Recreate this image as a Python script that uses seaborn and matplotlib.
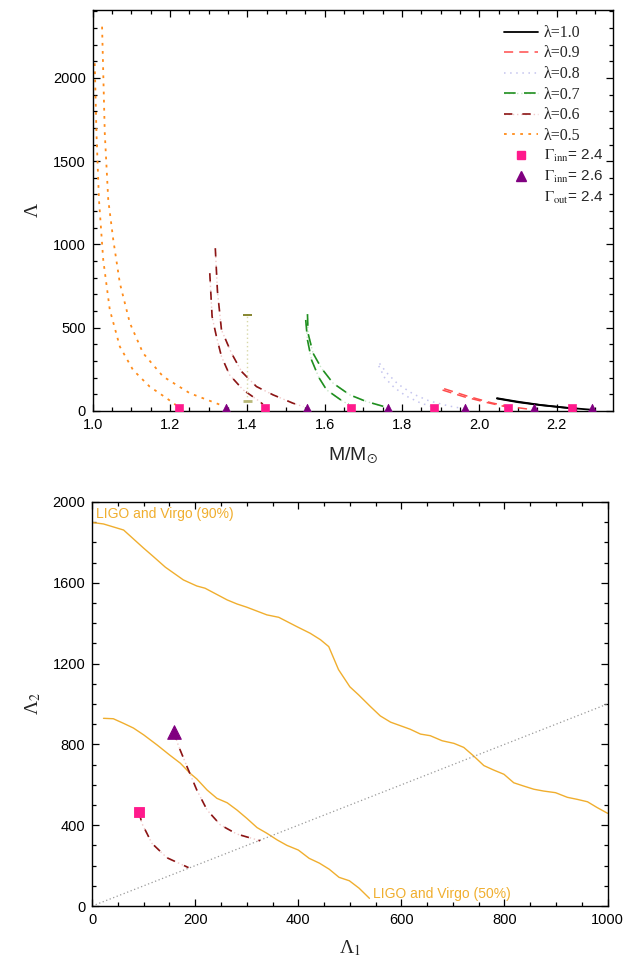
import numpy as np
import pandas as pd
import matplotlib
matplotlib.use("Agg")
import matplotlib.pyplot as plt
from matplotlib.lines import Line2D
from matplotlib.legend_handler import HandlerTuple
from matplotlib.ticker import MultipleLocator
import seaborn as sns

# ---------------- data: top panel (M/Msun vs Lambda) ----------------
# lambda = 0.5
m05_g26 = [1.024, 1.031, 1.040, 1.053, 1.070, 1.096, 1.130, 1.182, 1.251, 1.337]
L05_g26 = [2308, 1668, 1267, 1027, 767, 527, 347, 206, 106, 30]
m05_g24 = [1.005, 1.0095, 1.016, 1.027, 1.044, 1.070, 1.104, 1.147, 1.191, 1.215]
L05_g24 = [2088, 1668, 1267, 907, 607, 386, 246, 146, 76, 35]
# lambda = 0.6
m06_g26 = [1.317, 1.3226, 1.333, 1.359, 1.385, 1.4235, 1.4666, 1.518, 1.545]
L06_g26 = [977, 717, 486, 346, 236, 146, 96, 46, 25]
m06_g24 = [1.3027, 1.3087, 1.320, 1.333, 1.354, 1.389, 1.432, 1.440]
L06_g24 = [827, 566, 446, 326, 216, 126, 56, 40]
# lambda = 0.7
m07_g26 = [1.5555, 1.557, 1.570, 1.5917, 1.6218, 1.665, 1.708, 1.755]
L07_g26 = [581, 466, 346, 256, 166, 96, 56, 25]
m07_g24 = [1.551, 1.5555, 1.566, 1.585, 1.605, 1.6476, 1.662]
L07_g24 = [546, 426, 306, 200, 126, 56, 40]
# lambda = 0.8
m08_g26 = [1.742, 1.760, 1.790, 1.830, 1.870, 1.920, 1.955]
L08_g26 = [285, 230, 160, 100, 60, 30, 15]
m08_g24 = [1.740, 1.755, 1.780, 1.810, 1.850, 1.875]
L08_g24 = [270, 200, 140, 90, 45, 28]
# lambda = 0.9
m09_g26 = [1.909, 1.970, 2.032, 2.080, 2.135]
L09_g26 = [133, 88, 48, 25, 8]
m09_g24 = [1.905, 1.960, 2.020, 2.070]
L09_g24 = [125, 85, 50, 24]
# lambda = 1.0
m10_g26 = [2.046, 2.100, 2.157, 2.220, 2.294]
L10_g26 = [76, 55, 36, 20, 6]
m10_g24 = [2.046, 2.100, 2.160, 2.235]
L10_g24 = [74, 52, 34, 16]

lambdas = ["1.0", "0.9", "0.8", "0.7", "0.6", "0.5"]

# end-point markers
sq_mass = [1.222, 1.445, 1.668, 1.882, 2.075, 2.240]
sq_Lam = [20, 20, 20, 20, 20, 20]
tri_mass = [1.345, 1.555, 1.765, 1.962, 2.142, 2.292]
tri_Lam = [12, 12, 12, 12, 12, 12]

# GW170817 constraint at 1.4 Msun
gw_mass = [1.4]
gw_low = [62]
gw_high = [577]

# ---------------- data: bottom panel (Lambda1 vs Lambda2) ----------------
ligo90_L1 = [1, 22, 61, 100, 119, 142, 177, 203, 219, 262, 281, 300, 339, 362, 397,
             423, 443, 459, 478, 500, 517, 540, 559, 579, 617, 637, 656, 679, 702,
             721, 740, 760, 779, 799, 818, 837, 857, 876, 899, 922, 941, 961, 980, 1000]
ligo90_L2 = [1898, 1891, 1861, 1771, 1729, 1677, 1614, 1584, 1573, 1515, 1495, 1479,
             1441, 1429, 1383, 1350, 1318, 1284, 1170, 1085, 1045, 987, 941, 910, 875,
             851, 843, 818, 805, 785, 743, 695, 673, 652, 610, 594, 578, 569, 561, 538,
             528, 516, 487, 459]
ligo50_L1 = [22, 41, 61, 80, 100, 126, 151, 171, 190, 203, 223, 242, 262, 281, 300,
             320, 339, 359, 378, 400, 421, 441, 460, 479, 499, 518, 538]
ligo50_L2 = [929, 927, 904, 881, 847, 797, 746, 707, 657, 629, 574, 533, 511, 475, 434,
             388, 360, 327, 300, 277, 236, 212, 182, 142, 125, 88, 38]
diag_L = [0, 1000]

bin_g26_L1 = [158, 168, 184, 203, 223, 249, 281, 326]
bin_g26_L2 = [863, 789, 690, 574, 475, 401, 356, 323]
bin_g24_L1 = [91, 96.5, 116, 145, 187]
bin_g24_L2 = [464, 409, 310, 239, 190]

# ---------------- styling ----------------
sns.set_theme(style="ticks")
plt.rcParams["font.family"] = ["Liberation Sans", "DejaVu Sans"]
plt.rcParams["mathtext.fontset"] = "stix"
plt.rcParams["axes.linewidth"] = 1.0

styles = {
    "1.0": [dict(color="black", ls="-", lw=1.3)],
    "0.9": [dict(color="#ff4d4d", ls=(0, (6, 4)), lw=1.1)],
    "0.8": [dict(color="#c4c4ee", ls=(0, (1, 3)), lw=1.1)],
    "0.7": [dict(color="#c8e6c8", ls=(0, (1, 2)), lw=1.0),
            dict(color="#1f8f1f", ls=(0, (7, 5)), lw=1.2)],
    "0.6": [dict(color="#f0c8c8", ls=(0, (1, 2)), lw=1.0),
            dict(color="#8b1414", ls=(0, (5, 6)), lw=1.2)],
    "0.5": [dict(color="#ff8c1a", ls=(0, (1.5, 3)), lw=1.3)],
}
curves = {
    "1.0": [(m10_g24, L10_g24), (m10_g26, L10_g26)],
    "0.9": [(m09_g24, L09_g24), (m09_g26, L09_g26)],
    "0.8": [(m08_g24, L08_g24), (m08_g26, L08_g26)],
    "0.7": [(m07_g24, L07_g24), (m07_g26, L07_g26)],
    "0.6": [(m06_g24, L06_g24), (m06_g26, L06_g26)],
    "0.5": [(m05_g24, L05_g24), (m05_g26, L05_g26)],
}

sq_color = "#ff1a8c"
tri_color = "#800080"
ligo_color = "#f0ae2e"

fig = plt.figure(figsize=(6.27, 9.69), dpi=100)
ax1 = fig.add_axes([0.148, 0.576, 0.829, 0.414])
ax2 = fig.add_axes([0.147, 0.065, 0.822, 0.417])


def style_axis(ax):
    ax.tick_params(which="both", direction="in", top=True, right=True,
                   labelsize=10.5, colors="black", width=0.9, pad=5)
    ax.tick_params(which="major", length=5)
    ax.tick_params(which="minor", length=3)
    for s in ax.spines.values():
        s.set_color("black")
        s.set_linewidth(1.0)


# ---------- top panel ----------
for lam in lambdas:
    for st in styles[lam]:
        for (mx, ly) in curves[lam]:
            df = pd.DataFrame({"M": mx, "L": ly})
            sns.lineplot(data=df, x="M", y="L", ax=ax1, sort=False, estimator=None,
                         color=st["color"], lw=st["lw"], linestyle=st["ls"])

# GW constraint error bar
ax1.vlines(gw_mass, gw_low, gw_high, colors="#d8d8a8", linestyles=(0, (1, 2)), lw=1)
ax1.hlines(gw_high, [m - 0.012 for m in gw_mass], [m + 0.012 for m in gw_mass],
           colors="#7d7d20", lw=1.3)
ax1.hlines(gw_low, [m - 0.012 for m in gw_mass], [m + 0.012 for m in gw_mass],
           colors="#b8b878", lw=2)

sns.scatterplot(x=sq_mass, y=sq_Lam, ax=ax1, marker="s", s=34, color=sq_color,
                edgecolor=sq_color, zorder=5)
sns.scatterplot(x=tri_mass, y=tri_Lam, ax=ax1, marker="^", s=55, color=tri_color,
                edgecolor=tri_color, zorder=5)

ax1.set_xlim(1.0, 2.345)
ax1.set_ylim(0, 2410)
ax1.xaxis.set_major_locator(MultipleLocator(0.2))
ax1.xaxis.set_minor_locator(MultipleLocator(0.05))
ax1.yaxis.set_major_locator(MultipleLocator(500))
ax1.yaxis.set_minor_locator(MultipleLocator(100))
ax1.xaxis.set_major_formatter(matplotlib.ticker.FormatStrFormatter("%.1f"))
style_axis(ax1)
ax1.set_xlabel(r"M/M$_{\odot}$", fontsize=14, labelpad=10)
ax1.set_ylabel("Λ", fontsize=14, family="Liberation Serif", labelpad=8)

handles = []
labels = []
for lam in lambdas:
    hs = tuple(Line2D([], [], color=st["color"], lw=st["lw"], linestyle=st["ls"])
               for st in styles[lam])
    handles.append(hs)
    labels.append("λ=" + lam)
handles.append(Line2D([], [], ls="none", marker="s", ms=5.5, color=sq_color))
labels.append(r"$\Gamma_{\rm inn}$= 2.4")
handles.append(Line2D([], [], ls="none", marker="^", ms=7, color=tri_color))
labels.append(r"$\Gamma_{\rm inn}$= 2.6")
handles.append(Line2D([], [], ls="none"))
labels.append(r"$\Gamma_{\rm out}$= 2.4")
leg = ax1.legend(handles, labels, loc="upper right", bbox_to_anchor=(1.0, 0.985),
                 frameon=False, fontsize=11, handlelength=2.2, handletextpad=0.4,
                 labelspacing=0.3, borderaxespad=0.2,
                 handler_map={tuple: HandlerTuple(ndivide=1, pad=0)})
for i, t in enumerate(leg.get_texts()):
    if i < 6:
        t.set_family("Liberation Serif")
        t.set_fontsize(11.5)
    else:
        t.set_fontsize(11)

# ---------- bottom panel ----------
sns.lineplot(x=ligo90_L1, y=ligo90_L2, ax=ax2, sort=False, estimator=None,
             color=ligo_color, lw=1.0)
sns.lineplot(x=ligo50_L1, y=ligo50_L2, ax=ax2, sort=False, estimator=None,
             color=ligo_color, lw=1.0)
sns.lineplot(x=diag_L, y=diag_L, ax=ax2, sort=False, estimator=None,
             color="#999999", lw=0.9, linestyle=(0, (1, 2)))
for st in styles["0.6"]:
    sns.lineplot(x=bin_g26_L1, y=bin_g26_L2, ax=ax2, sort=False, estimator=None,
                 color=st["color"], lw=st["lw"], linestyle=st["ls"])
    sns.lineplot(x=bin_g24_L1, y=bin_g24_L2, ax=ax2, sort=False, estimator=None,
                 color=st["color"], lw=st["lw"], linestyle=st["ls"])
sns.scatterplot(x=[bin_g24_L1[0]], y=[bin_g24_L2[0]], ax=ax2, marker="s", s=60,
                color=sq_color, edgecolor=sq_color, zorder=5)
sns.scatterplot(x=[bin_g26_L1[0]], y=[bin_g26_L2[0]], ax=ax2, marker="^", s=95,
                color=tri_color, edgecolor=tri_color, zorder=5)

ax2.text(8, 1975, "LIGO and Virgo (90%)", color=ligo_color, fontsize=10,
         ha="left", va="top")
ax2.text(545, 60, "LIGO and Virgo (50%)", color=ligo_color, fontsize=10,
         ha="left", va="center")

ax2.set_xlim(0, 1000)
ax2.set_ylim(0, 2000)
ax2.xaxis.set_major_locator(MultipleLocator(200))
ax2.xaxis.set_minor_locator(MultipleLocator(50))
ax2.yaxis.set_major_locator(MultipleLocator(400))
ax2.yaxis.set_minor_locator(MultipleLocator(100))
style_axis(ax2)
ax2.set_xlabel(r"Λ$_1$", fontsize=14, family="Liberation Serif", labelpad=8)
ax2.set_ylabel(r"Λ$_2$", fontsize=14, family="Liberation Serif", labelpad=7)

fig.savefig("out.png", dpi=100)
